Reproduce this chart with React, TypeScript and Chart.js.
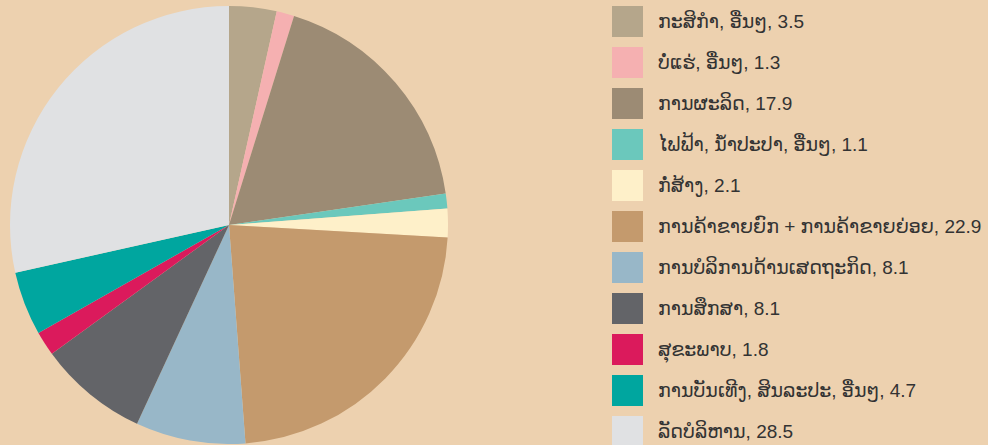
import React, { useEffect, useRef } from "react";
import { Chart, registerables } from "chart.js";

Chart.register(...registerables);

const labels = [
  "ກະສິກຳ, ອື່ນໆ",
  "ບໍ່ແຮ່, ອື່ນໆ",
  "ການຜະລິດ",
  "ໄຟຟ້າ, ນ້ຳປະປາ, ອື່ນໆ",
  "ກໍ່ສ້າງ",
  "ການຄ້າຂາຍຍົກ + ການຄ້າຂາຍຍ່ອຍ",
  "ການບໍລິການດ້ານເສດຖະກິດ",
  "ການສຶກສາ",
  "ສຸຂະພາບ",
  "ການບັນເທີງ, ສິນລະປະ, ອື່ນໆ",
  "ລັດບໍລິຫານ",
];
const values = [3.5, 1.3, 17.9, 1.1, 2.1, 22.9, 8.1, 8.1, 1.8, 4.7, 28.5];
const colors = [
  "#B5A68B",
  "#F5B0B1",
  "#9C8B74",
  "#6BC8BC",
  "#FEF0C9",
  "#C49A6D",
  "#98B7C8",
  "#636468",
  "#DB1A5C",
  "#00A69F",
  "#E0E1E3",
];

export default function App() {
  const ref = useRef<HTMLCanvasElement | null>(null);
  useEffect(() => {
    if (!ref.current) return;
    const chart = new Chart(ref.current, {
      type: "pie",
      data: {
        labels,
        datasets: [
          {
            data: values,
            backgroundColor: colors,
            borderWidth: 0,
          },
        ],
      },
      options: {
        animation: false,
        responsive: true,
        maintainAspectRatio: false,
        plugins: {
          legend: { display: false },
          tooltip: { enabled: false },
        },
        layout: { padding: 0 },
      },
    });
    return () => chart.destroy();
  }, []);

  return (
    <div
      style={{
        position: "fixed",
        left: 0,
        top: 0,
        width: 988,
        height: 445,
        background: "#EDD1AF",
        fontFamily: "'Liberation Sans', 'DejaVu Sans', Arial, sans-serif",
        overflow: "hidden",
      }}
    >
      <div style={{ position: "absolute", left: 10, top: 6, width: 438, height: 438 }}>
        <canvas ref={ref} />
      </div>
      <div style={{ position: "absolute", left: 612, top: 6 }}>
        {labels.map((l, i) => (
          <div
            key={i}
            style={{ display: "flex", alignItems: "center", height: 31, marginBottom: 10 }}
          >
            <div style={{ width: 31, height: 31, background: colors[i], flex: "none" }} />
            <span
              style={{
                marginLeft: 15,
                fontSize: 19,
                color: "#333333",
                whiteSpace: "nowrap",
              }}
            >
              {l}, {values[i]}
            </span>
          </div>
        ))}
      </div>
    </div>
  );
}
